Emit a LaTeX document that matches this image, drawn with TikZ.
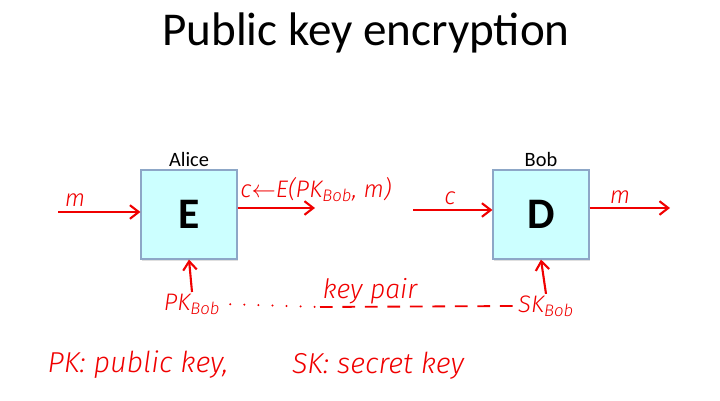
\documentclass[tikz,border=0pt]{standalone}
\usepackage{fontspec}
\setmainfont{Carlito}
\newfontfamily\mano{Fira Sans Light}
\usetikzlibrary{arrows.meta,shadows,positioning}
\definecolor{cian}{HTML}{CCFFFF}
\definecolor{bordeCaja}{HTML}{8DA7C7}
\definecolor{rojo}{HTML}{F00000}

\begin{document}
\begin{tikzpicture}[
    bloque/.style={draw=bordeCaja, fill=cian, line width=0.8pt, minimum width=2.4cm, minimum height=2.225cm,
        font=\fontsize{31}{31}\selectfont\bfseries, drop shadow={opacity=0.25, shadow xshift=0.03cm, shadow yshift=-0.04cm}},
    nombre/.style={font=\fontsize{14.5}{16}\selectfont, inner sep=2pt},
    trazo/.style={text=rojo, font=\mano\itshape\fontsize{17}{18}\selectfont, inner sep=1pt},
    nota/.style={trazo, font=\mano\itshape\fontsize{20.5}{22}\selectfont},
    flecha/.style={draw=rojo, line width=1.5pt, -{Straight Barb[length=2.2mm, width=3.4mm]}}
]
\useasboundingbox (0,0) rectangle (18,-10.025);
% Titulo
\node[font=\fontsize{33.5}{38}\selectfont] (titulo) at (9.15,-0.82) {Public key encryption};
% Cajas
\node[bloque] (cajaE) at (4.725,-5.3625) {E};
\node[bloque] (cajaD) at (13.525,-5.3625) {D};
\node[nombre, above=0pt of cajaE] (alice) {Alice};
\node[nombre, above=0pt of cajaD] (bob) {Bob};
% Extremos libres
\coordinate (mIn) at (1.45,-5.3);
\coordinate (cOut) at (7.875,-5.2);
\coordinate (cIn) at (10.325,-5.25);
\coordinate (mOut) at (16.75,-5.2);
\coordinate (medio) at (8,-7.675);
% Etiquetas
\node[trazo] (etiqM) at (1.875,-5.0) {m};
\node[trazo] (etiqCifra) at (7.9,-4.75) {c$\leftarrow$E(PK\textsubscript{Bob}, m)};
\node[trazo] (etiqC) at (11.25,-4.95) {c};
\node[trazo] (etiqMOut) at (15.5,-4.925) {m};
\node[trazo] (pkBob) at (4.8,-7.6) {PK\textsubscript{Bob}};
\node[trazo] (skBob) at (13.65,-7.65) {SK\textsubscript{Bob}};
\node[trazo, font=\mano\itshape\fontsize{19}{20}\selectfont] (par) at (9.25,-7.27) {key pair};
\node[nota] (notaPK) at (3.45,-9.125) {PK: public key,};
\node[nota] (notaSK) at (9.45,-9.15) {SK: secret key};
% Aristas
\draw[flecha] (mIn) to (cajaE.west |- mIn);
\draw[flecha] (cajaE.east |- cOut) to (cOut);
\draw[flecha] (cIn) to (cajaD.west |- cIn);
\draw[flecha] (cajaD.east |- mOut) to (mOut);
\draw[flecha] (pkBob.north) to (cajaE.south);
\draw[flecha] (skBob.north) to (cajaD.south);
\draw[rojo, line width=1.6pt, line cap=round, dash pattern=on 0pt off 10pt, shorten <=6pt] (pkBob.east) to (medio);
\draw[rojo, line width=1.3pt, dash pattern=on 9pt off 7pt] (medio) to (skBob.west);
\end{tikzpicture}
\end{document}
